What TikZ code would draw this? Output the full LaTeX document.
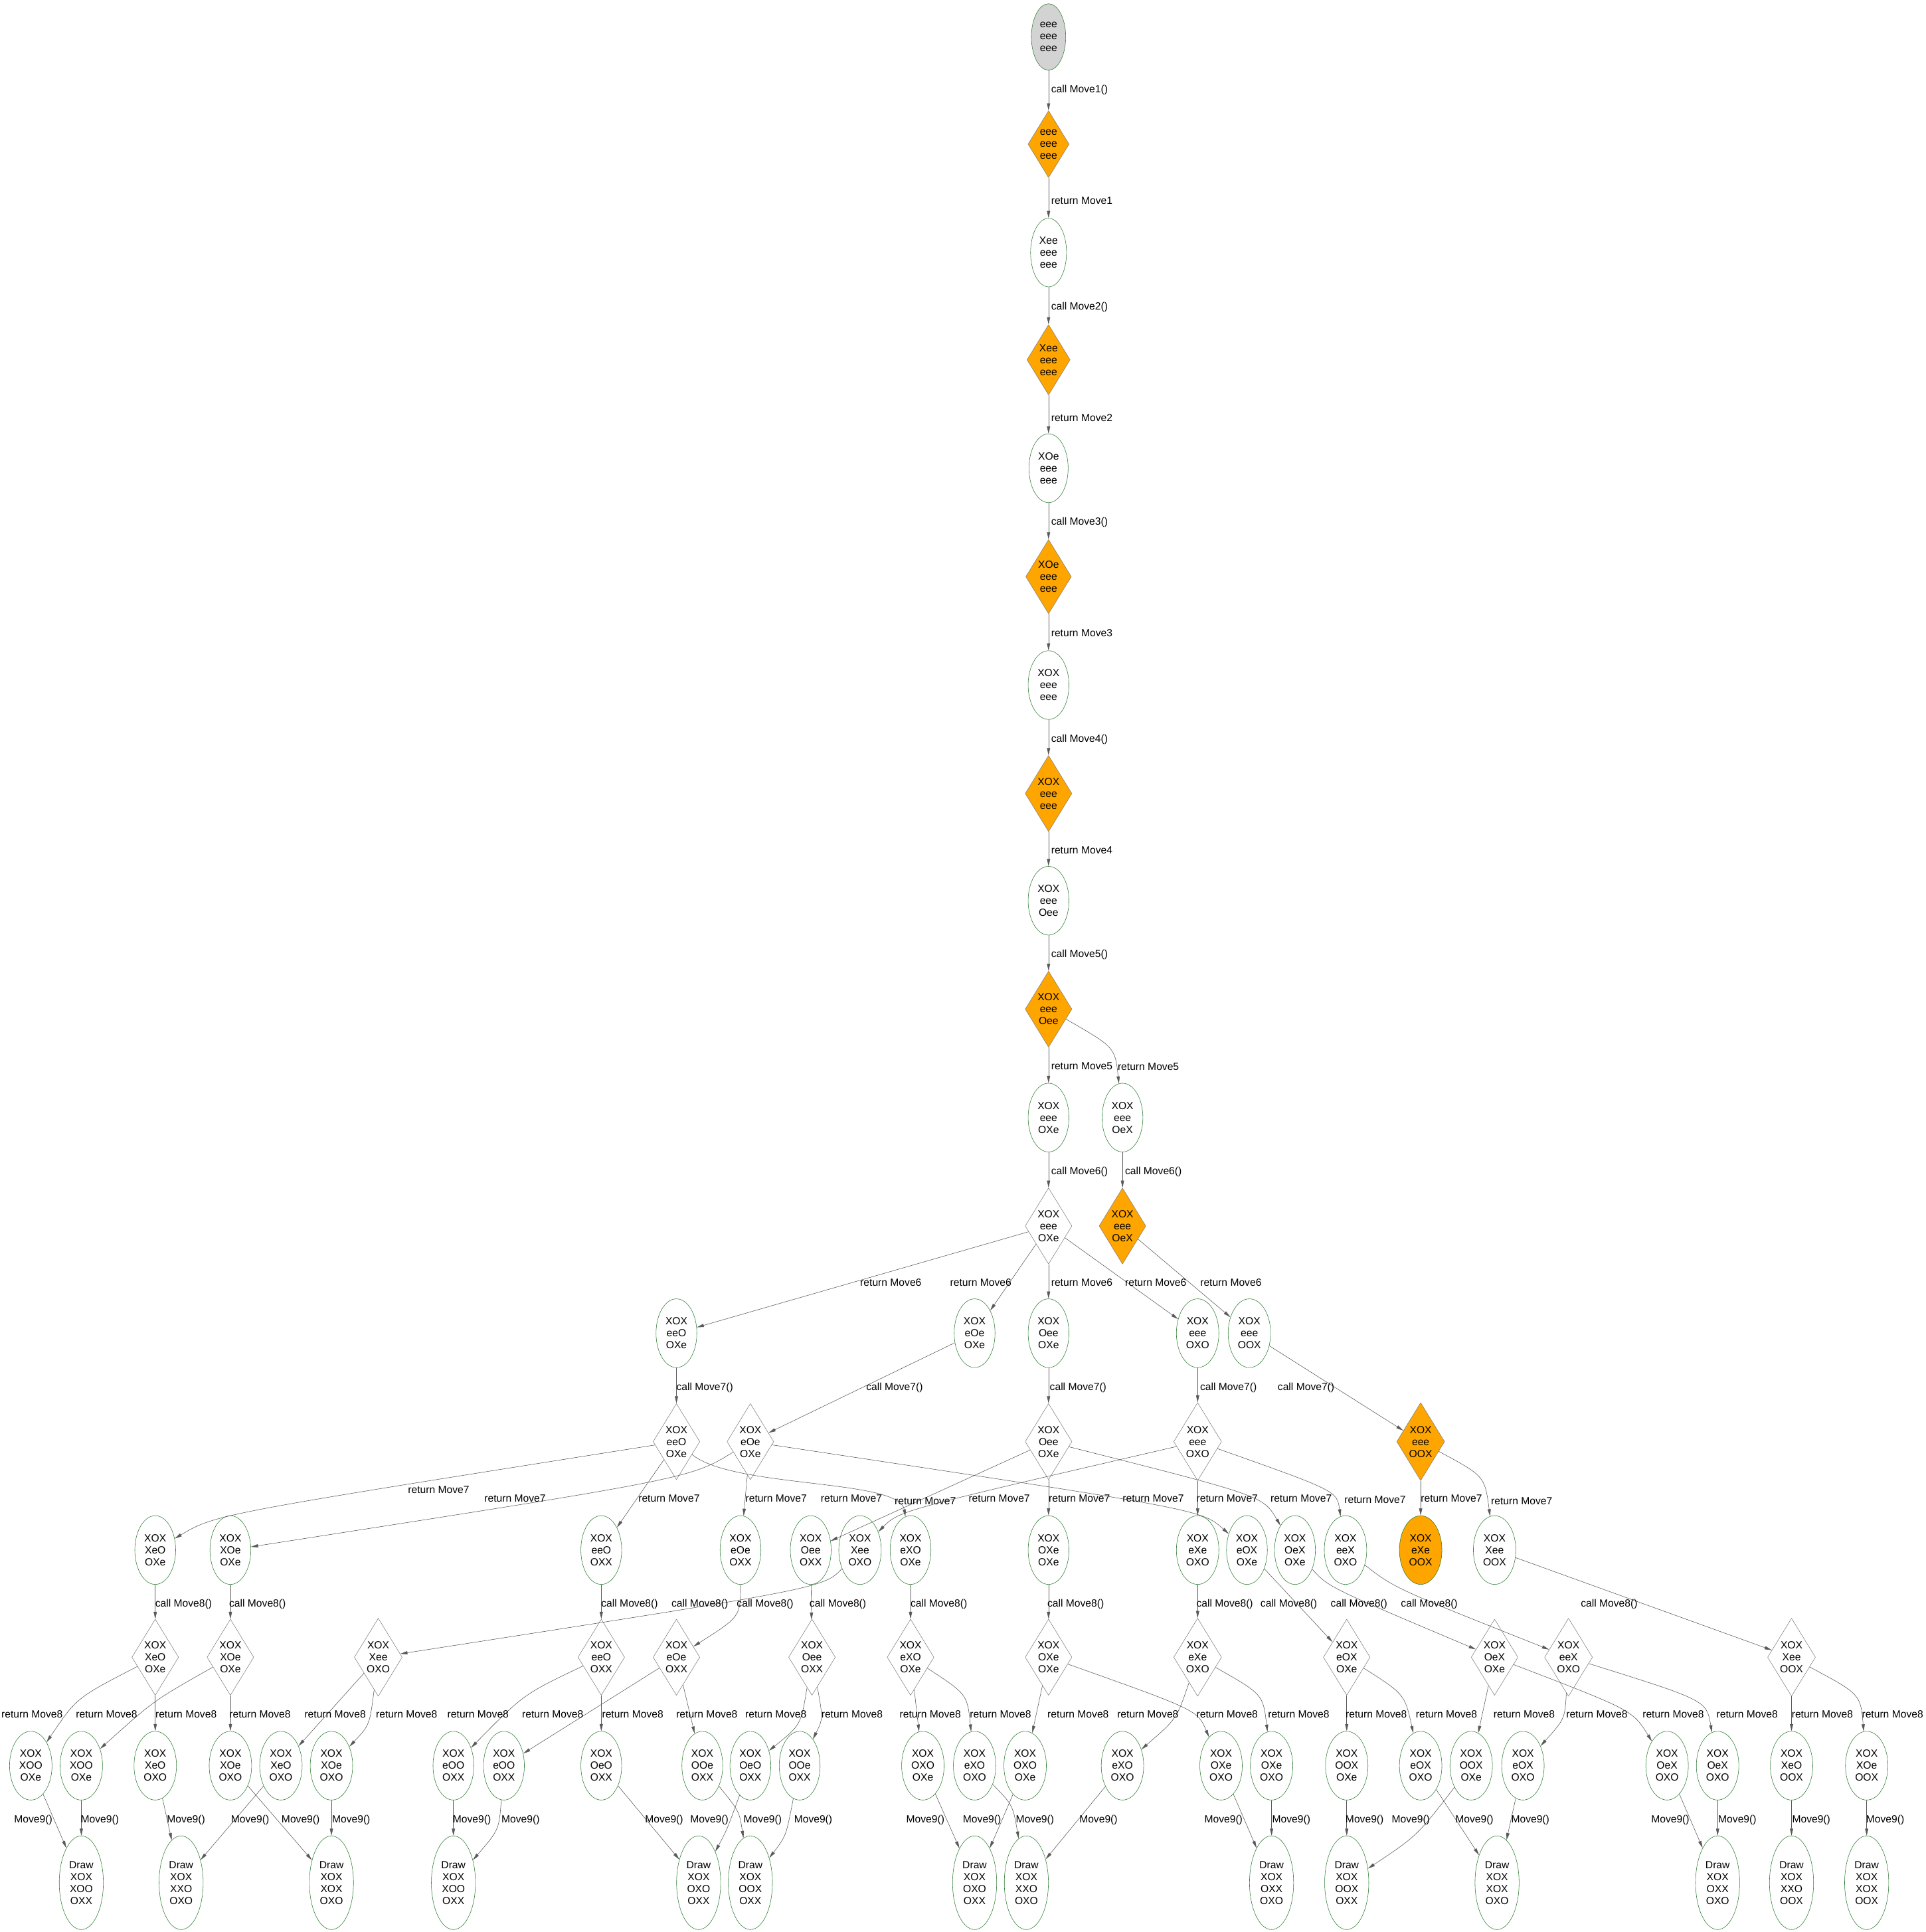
\documentclass[tikz,border=0pt]{standalone}
\usepackage{fontspec}
\setmainfont{Liberation Sans}
\usetikzlibrary{shapes.geometric,arrows.meta}
\definecolor{gvorange}{HTML}{FFA500}
\definecolor{gvgreen}{HTML}{2E7D32}
\definecolor{gvgray}{HTML}{D3D3D3}
\begin{document}
\begin{tikzpicture}[x=0.5mm,y=-0.5mm,>={Triangle[length=2.9mm,width=1.3mm]},
    line join=round,
    txt/.style={font=\fontsize{12}{13.8}\selectfont},
    board/.style={txt,ellipse,draw=gvgreen,line width=0.45pt,align=center,inner xsep=4pt,inner ysep=10pt},
    root/.style={board,fill=gvgray},
    final/.style={board,minimum height=3.8cm},
    choice/.style={txt,diamond,draw=gray,line width=0.45pt,aspect=0.614,inner sep=2pt,align=center},
    hot/.style={fill=gvorange},
    link/.style={->,draw=black!65,line width=0.45pt},
    lbl/.style={txt,inner sep=0pt}]
\useasboundingbox (0,0) rectangle (1563,1568);
% main line of play
\node[root] (n0) at (851,30) {eee\\eee\\eee};
\node[choice,hot] (c1) at (851,117) {eee\\eee\\eee};
\node[board] (b1) at (851,205) {Xee\\eee\\eee};
\node[choice,hot] (c2) at (851,292) {Xee\\eee\\eee};
\node[board] (b2) at (851,380) {XOe\\eee\\eee};
\node[choice,hot] (c3) at (851,468) {XOe\\eee\\eee};
\node[board] (b3) at (851,556) {XOX\\eee\\eee};
\node[choice,hot] (c4) at (851,644) {XOX\\eee\\eee};
\node[board] (b4) at (851,731) {XOX\\eee\\Oee};
\node[choice,hot] (c5) at (851,819) {XOX\\eee\\Oee};
\node[board] (b5a) at (851,907) {XOX\\eee\\OXe};
\node[board] (b5b) at (911,907) {XOX\\eee\\OeX};
\node[choice] (c6a) at (851,995) {XOX\\eee\\OXe};
\node[choice,hot] (c6b) at (911,995) {XOX\\eee\\OeX};
% boards after move 6
\foreach \n/\x/\t in {b6a/549/{XOX\\eeO\\OXe},b6b/791/{XOX\\eOe\\OXe},b6c/851/{XOX\\Oee\\OXe},
    b6d/972/{XOX\\eee\\OXO},b6e/1014/{XOX\\eee\\OOX}}
  \node[board] (\n) at (\x,1082) {\t};
\foreach \n/\x/\t in {c7a/549/{XOX\\eeO\\OXe},c7b/609/{XOX\\eOe\\OXe},c7c/851/{XOX\\Oee\\OXe},
    c7d/972/{XOX\\eee\\OXO}}
  \node[choice] (\n) at (\x,1170) {\t};
\node[choice,hot] (c7e) at (1153,1170) {XOX\\eee\\OOX};
% boards after move 7
\foreach \n/\x/\t in {b7a/126/{XOX\\XeO\\OXe},b7b/187/{XOX\\XOe\\OXe},b7c/488/{XOX\\eeO\\OXX},
    b7d/601/{XOX\\eOe\\OXX},b7e/658/{XOX\\Oee\\OXX},b7f/698/{XOX\\Xee\\OXO},b7g/739/{XOX\\eXO\\OXe},
    b7h/851/{XOX\\OXe\\OXe},b7i/972/{XOX\\eXe\\OXO},b7j/1012/{XOX\\eOX\\OXe},b7k/1051/{XOX\\OeX\\OXe},
    b7l/1092/{XOX\\eeX\\OXO},b7n/1213/{XOX\\Xee\\OOX}}
  \node[board] (\n) at (\x,1258) {\t};
\node[board,hot] (b7m) at (1153,1258) {XOX\\eXe\\OOX};
\foreach \n/\x/\t in {c8a/126/{XOX\\XeO\\OXe},c8b/187/{XOX\\XOe\\OXe},c8c/307/{XOX\\Xee\\OXO},
    c8d/488/{XOX\\eeO\\OXX},c8e/549/{XOX\\eOe\\OXX},c8f/659/{XOX\\Oee\\OXX},c8g/739/{XOX\\eXO\\OXe},
    c8h/851/{XOX\\OXe\\OXe},c8i/972/{XOX\\eXe\\OXO},c8j/1093/{XOX\\eOX\\OXe},c8k/1213/{XOX\\OeX\\OXe},
    c8l/1273/{XOX\\eeX\\OXO},c8m/1454/{XOX\\Xee\\OOX}}
  \node[choice] (\n) at (\x,1345) {\t};
% boards after move 8
\foreach \n/\x/\t in {b8a/25/{XOX\\XOO\\OXe},b8b/66/{XOX\\XOO\\OXe},b8c/126/{XOX\\XeO\\OXO},
    b8d/187/{XOX\\XOe\\OXO},b8e/228/{XOX\\XeO\\OXO},b8f/269/{XOX\\XOe\\OXO},b8g/368/{XOX\\eOO\\OXX},
    b8h/409/{XOX\\eOO\\OXX},b8i/488/{XOX\\OeO\\OXX},b8j/570/{XOX\\OOe\\OXX},b8k/609/{XOX\\OeO\\OXX},
    b8l/649/{XOX\\OOe\\OXX},b8m/749/{XOX\\OXO\\OXe},b8n/791/{XOX\\eXO\\OXO},b8o/832/{XOX\\OXO\\OXe},
    b8p/911/{XOX\\eXO\\OXO},b8q/991/{XOX\\OXe\\OXO},b8r/1032/{XOX\\OXe\\OXO},b8s/1093/{XOX\\OOX\\OXe},
    b8t/1153/{XOX\\eOX\\OXO},b8u/1194/{XOX\\OOX\\OXe},b8v/1236/{XOX\\eOX\\OXO},b8w/1353/{XOX\\OeX\\OXO},
    b8x/1394/{XOX\\OeX\\OXO},b8y/1454/{XOX\\XeO\\OOX},b8z/1515/{XOX\\XOe\\OOX}}
  \node[board] (\n) at (\x,1433) {\t};
% drawn games
\foreach \n/\x/\t in {d1/66/{XOO\\OXX},d2/147/{XXO\\OXO},d3/269/{XOX\\OXO},d4/368/{XOO\\OXX},
    d5/567/{OXO\\OXX},d6/609/{OOX\\OXX},d7/791/{OXO\\OXX},d8/833/{XXO\\OXO},d9/1032/{OXX\\OXO},
    d10/1093/{OOX\\OXX},d11/1215/{XOX\\OXO},d12/1394/{OXX\\OXO},d13/1454/{XXO\\OOX},d14/1515/{XOX\\OOX}}
  \node[final] (\n) at (\x,1528) {Draw\\XOX\\\t};

% calls and returns
\foreach \a/\b/\l/\y in {n0/c1/call Move1()/73,c1/b1/return Move1/163,b1/c2/call Move2()/249,
    c2/b2/return Move2/339,b2/c3/call Move3()/424,c3/b3/return Move3/514,b3/c4/call Move4()/600,
    c4/b4/return Move4/690,b4/c5/call Move5()/775,c5/b5a/return Move5/865,b5a/c6a/call Move6()/951}
  \draw[link] (\a) -- (\b) node[lbl,anchor=west] at (853,\y) {\l};
\draw[link] (c5) .. controls (905,850) .. (b5b) node[lbl,anchor=west] at (907,866) {return Move5};
\draw[link] (b5b) -- (c6b) node[lbl,anchor=west] at (913,951) {call Move6()};
\foreach \a/\b/\lx in {c6a/b6a/723,c6a/b6b/796,c6a/b6c/878,c6a/b6d/938,c6b/b6e/999}
  \draw[link] (\a) -- (\b) node[lbl] at (\lx,1041) {return Move6};
\foreach \a/\b/\lx in {b6a/c7a/572,b6b/c7b/726,b6c/c7c/875,b6d/c7d/997,b6e/c7e/1060}
  \draw[link] (\a) -- (\b) node[lbl] at (\lx,1126) {call Move7()};
% move 7
\foreach \a/\b/\lx/\ly in {c7a/b7c/543/1216,c7b/b7d/630/1216,c7c/b7e/751/1218,c7c/b7h/876/1216,
    c7d/b7i/996/1216,c7e/b7m/1178/1216}
  \draw[link] (\a) -- (\b) node[lbl] at (\lx,\ly) {return Move7};
\foreach \a/\b/\cx/\cy/\lx/\ly in {c7a/b7a/175/1229/356/1209,c7b/b7b/560/1200/418/1216,
    c7d/b7f/730/1226/811/1216,c7b/b7j/975/1225/936/1216,c7c/b7k/1025/1214/1056/1216,
    c7d/b7l/1085/1210/1116/1217,c7e/b7n/1205/1198/1235/1218}
  \draw[link] (\a) .. controls (\cx,\cy) .. (\b) node[lbl] at (\lx,\ly) {return Move7};
\draw[link] (c7a) .. controls (595,1208) and (730,1200) .. (b7g) node[lbl] at (691,1216) {return Move7};
% move 8
\foreach \a/\b/\lx in {b7a/c8a/149,b7b/c8b/209,b7c/c8d/511,b7e/c8f/680,b7g/c8g/762,b7h/c8h/873,
    b7i/c8i/994,b7j/c8j/1046,b7n/c8m/1306}
  \draw[link] (\a) -- (\b) node[lbl] at (\lx,1302) {call Move8()};
\foreach \a/\b/\cx/\cy/\lx in {b7f/c8c/668/1289/568,b7d/c8e/601/1312/621,b7k/c8k/1078/1288/1103,
    b7l/c8l/1132/1289/1160}
  \draw[link] (\a) .. controls (\cx,\cy) .. (\b) node[lbl] at (\lx,1302) {call Move8()};
\foreach \a/\b/\lx in {c8a/b8c/151,c8b/b8d/211,c8c/b8e/272,c8e/b8h/448.6,c8d/b8i/513.5,c8e/b8j/573.7,
    c8g/b8m/755,c8h/b8o/875,c8j/b8s/1117,c8k/b8u/1237,c8m/b8y/1479}
  \draw[link] (\a) -- (\b) node[lbl] at (\lx,1391) {return Move8};
\foreach \a/\b/\cx/\cy/\lx in {c8a/b8a/62/1378/26,c8b/b8b/125/1380/86.5,c8c/b8f/300/1400/330,
    c8d/b8g/425/1375/388,c8f/b8k/650/1400/629.7,c8f/b8l/668/1395/691.5,c8g/b8n/785/1375/812,
    c8i/b8p/955/1395/931.6,c8h/b8q/972/1388/996,c8i/b8r/1025/1375/1054,c8j/b8t/1140/1375/1174,
    c8l/b8v/1270/1395/1296,c8k/b8w/1325/1388/1358,c8l/b8x/1385/1380/1418,c8m/b8z/1510/1375/1536}
  \draw[link] (\a) .. controls (\cx,\cy) .. (\b) node[lbl] at (\lx,1391) {return Move8};
% move 9
\foreach \a/\b/\lx in {b8a/d1/27,b8b/d1/81,b8c/d2/151,b8e/d2/203,b8d/d3/244,b8f/d3/285,b8g/d4/383,
    b8i/d5/539,b8m/d7/751,b8p/d8/891.5,b8q/d9/993,b8r/d9/1048,b8s/d10/1107.5,b8t/d11/1196.6,
    b8v/d11/1242,b8w/d12/1355.6,b8x/d12/1410,b8y/d13/1470,b8z/d14/1530}
  \draw[link] (\a) -- (\b) node[lbl] at (\lx,1477) {Move9()};
\foreach \a/\b/\cx/\cy/\lx in {b8h/d4/405/1485/422.5,b8k/d5/590/1485/575.7,b8j/d6/600/1470/619,
    b8l/d6/638/1490/660,b8o/d7/812/1480/797,b8n/d8/822/1465/840,b8u/d10/1150/1490/1145}
  \draw[link] (\a) .. controls (\cx,\cy) .. (\b) node[lbl] at (\lx,1477) {Move9()};
\end{tikzpicture}
\end{document}
